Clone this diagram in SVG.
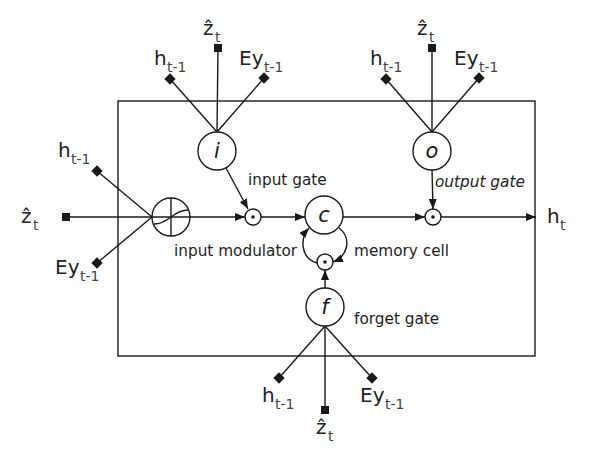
<svg xmlns="http://www.w3.org/2000/svg" xmlns:xlink="http://www.w3.org/1999/xlink" width="595" height="466" viewBox="0 0 595 466">
<style>
.ln{stroke:#1a1a1a;stroke-width:1.4;fill:none}
.nd{stroke:#1a1a1a;stroke-width:1.4;fill:#fff}
.lbl{font-family:"DejaVu Sans",sans-serif;font-size:15.3px;fill:#222}
.big{font-family:"DejaVu Sans",sans-serif;font-size:20px;fill:#222}
.sub{font-family:"DejaVu Sans",sans-serif;font-size:14px;fill:#444}
.gl{font-family:"DejaVu Sans",sans-serif;font-size:21px;font-style:italic;fill:#1a1a1a;text-anchor:middle}
.dot{fill:#1a1a1a}
</style>
<defs>
<marker id="arr" markerUnits="userSpaceOnUse" markerWidth="10" markerHeight="8" refX="10" refY="4" orient="auto">
<path d="M0,0 L10,4 L0,8 z" fill="#1a1a1a"/>
</marker>
<rect id="dia" x="-4" y="-4" width="8" height="8" transform="rotate(45)" fill="#1a1a1a"/>
<rect id="sq" x="-4" y="-4" width="8" height="8" fill="#1a1a1a"/>
</defs>
<rect x="118" y="101" width="417" height="255" class="ln"/>
<g id="connectors">
<line class="ln" x1="170" y1="79" x2="217" y2="132"/>
<line class="ln" x1="218" y1="48" x2="217" y2="132"/>
<line class="ln" x1="264" y1="78" x2="217" y2="132"/>
<line class="ln" x1="386" y1="79" x2="432" y2="132"/>
<line class="ln" x1="432" y1="48" x2="432" y2="132"/>
<line class="ln" x1="479" y1="78" x2="432" y2="132"/>
<line class="ln" x1="97" y1="171" x2="152" y2="217"/>
<line class="ln" x1="97" y1="263" x2="152" y2="217"/>
<line class="ln" x1="279" y1="378" x2="325" y2="326"/>
<line class="ln" x1="325" y1="410" x2="325" y2="326"/>
<line class="ln" x1="372" y1="378" x2="325" y2="326"/>
<line class="ln" x1="66" y1="217" x2="245" y2="217" marker-end="url(#arr)"/>
<line class="ln" x1="226" y1="168" x2="248" y2="209" marker-end="url(#arr)"/>
<line class="ln" x1="261" y1="217" x2="305" y2="217" marker-end="url(#arr)"/>
<line class="ln" x1="343" y1="217" x2="425" y2="217" marker-end="url(#arr)"/>
<line class="ln" x1="432" y1="169" x2="433" y2="209" marker-end="url(#arr)"/>
<line class="ln" x1="441" y1="217" x2="536" y2="217" marker-end="url(#arr)"/>
<line class="ln" x1="325" y1="288" x2="325" y2="270" marker-end="url(#arr)"/>
<path class="ln" d="M339,228 C352,238 348,256 333,262" marker-end="url(#arr)"/>
<path class="ln" d="M317,263 C300,258 300,238 309,228" marker-end="url(#arr)"/>
</g>
<g id="gate_i"><circle class="nd" cx="217" cy="151" r="19"/><text class="gl" x="217" y="158">i</text></g>
<g id="gate_o"><circle class="nd" cx="432" cy="151" r="19"/><text class="gl" x="432" y="158">o</text></g>
<g id="cell_c"><circle class="nd" cx="324" cy="215" r="19"/><text class="gl" x="324" y="222">c</text></g>
<g id="gate_f"><circle class="nd" cx="325" cy="307" r="19"/><text class="gl" x="325" y="314">f</text></g>
<g id="modulator">
<circle class="nd" cx="171" cy="217" r="19"/>
<line class="ln" x1="152" y1="217" x2="190" y2="217"/>
<line class="ln" x1="171" y1="198" x2="171" y2="236"/>
<path class="ln" d="M154,224 Q162,224 171,217 T188,210"/>
</g>
<g id="prod_in"><circle class="nd" cx="253" cy="217" r="8"/><circle class="dot" cx="253" cy="217" r="1.8"/></g>
<g id="prod_forget"><circle class="nd" cx="325" cy="262" r="8"/><circle class="dot" cx="325" cy="262" r="1.8"/></g>
<g id="prod_out"><circle class="nd" cx="433" cy="217" r="8"/><circle class="dot" cx="433" cy="217" r="1.8"/></g>
<g id="in_i_h"><use xlink:href="#dia" x="170" y="79"/><text class="big" x="154" y="65">h</text><text class="sub" x="167" y="72">t-1</text></g>
<g id="in_i_z"><use xlink:href="#sq" x="218" y="48"/><text class="big" x="203" y="35">ẑ</text><text class="sub" x="215" y="42">t</text></g>
<g id="in_i_ey"><use xlink:href="#dia" x="264" y="78"/><text class="big" x="239" y="65">Ey</text><text class="sub" x="264" y="72">t-1</text></g>
<g id="in_o_h"><use xlink:href="#dia" x="386" y="79"/><text class="big" x="370" y="65">h</text><text class="sub" x="383" y="72">t-1</text></g>
<g id="in_o_z"><use xlink:href="#sq" x="432" y="48"/><text class="big" x="417" y="35">ẑ</text><text class="sub" x="429" y="42">t</text></g>
<g id="in_o_ey"><use xlink:href="#dia" x="479" y="78"/><text class="big" x="454" y="65">Ey</text><text class="sub" x="479" y="72">t-1</text></g>
<g id="in_g_h"><use xlink:href="#dia" x="97" y="171"/><text class="big" x="58" y="157">h</text><text class="sub" x="71" y="164">t-1</text></g>
<g id="in_g_z"><use xlink:href="#sq" x="66" y="217"/><text class="big" x="21" y="223">ẑ</text><text class="sub" x="33" y="230">t</text></g>
<g id="in_g_ey"><use xlink:href="#dia" x="97" y="263"/><text class="big" x="55" y="274">Ey</text><text class="sub" x="80" y="281">t-1</text></g>
<g id="in_f_h"><use xlink:href="#dia" x="279" y="378"/><text class="big" x="262" y="402">h</text><text class="sub" x="275" y="409">t-1</text></g>
<g id="in_f_z"><use xlink:href="#sq" x="325" y="410"/><text class="big" x="316" y="434">ẑ</text><text class="sub" x="328" y="441">t</text></g>
<g id="in_f_ey"><use xlink:href="#dia" x="372" y="378"/><text class="big" x="360" y="402">Ey</text><text class="sub" x="385" y="409">t-1</text></g>
<g id="out_h"><text class="big" x="547" y="223">h</text><text class="sub" x="560" y="230">t</text></g>
<g id="labels">
<text class="lbl" x="248" y="185">input gate</text>
<text class="lbl" x="174" y="256">input modulator</text>
<text class="lbl" x="354" y="256">memory cell</text>
<text class="lbl" x="354" y="324">forget gate</text>
<text class="lbl" x="435" y="187" font-style="italic">output gate</text>
</g>
</svg>
